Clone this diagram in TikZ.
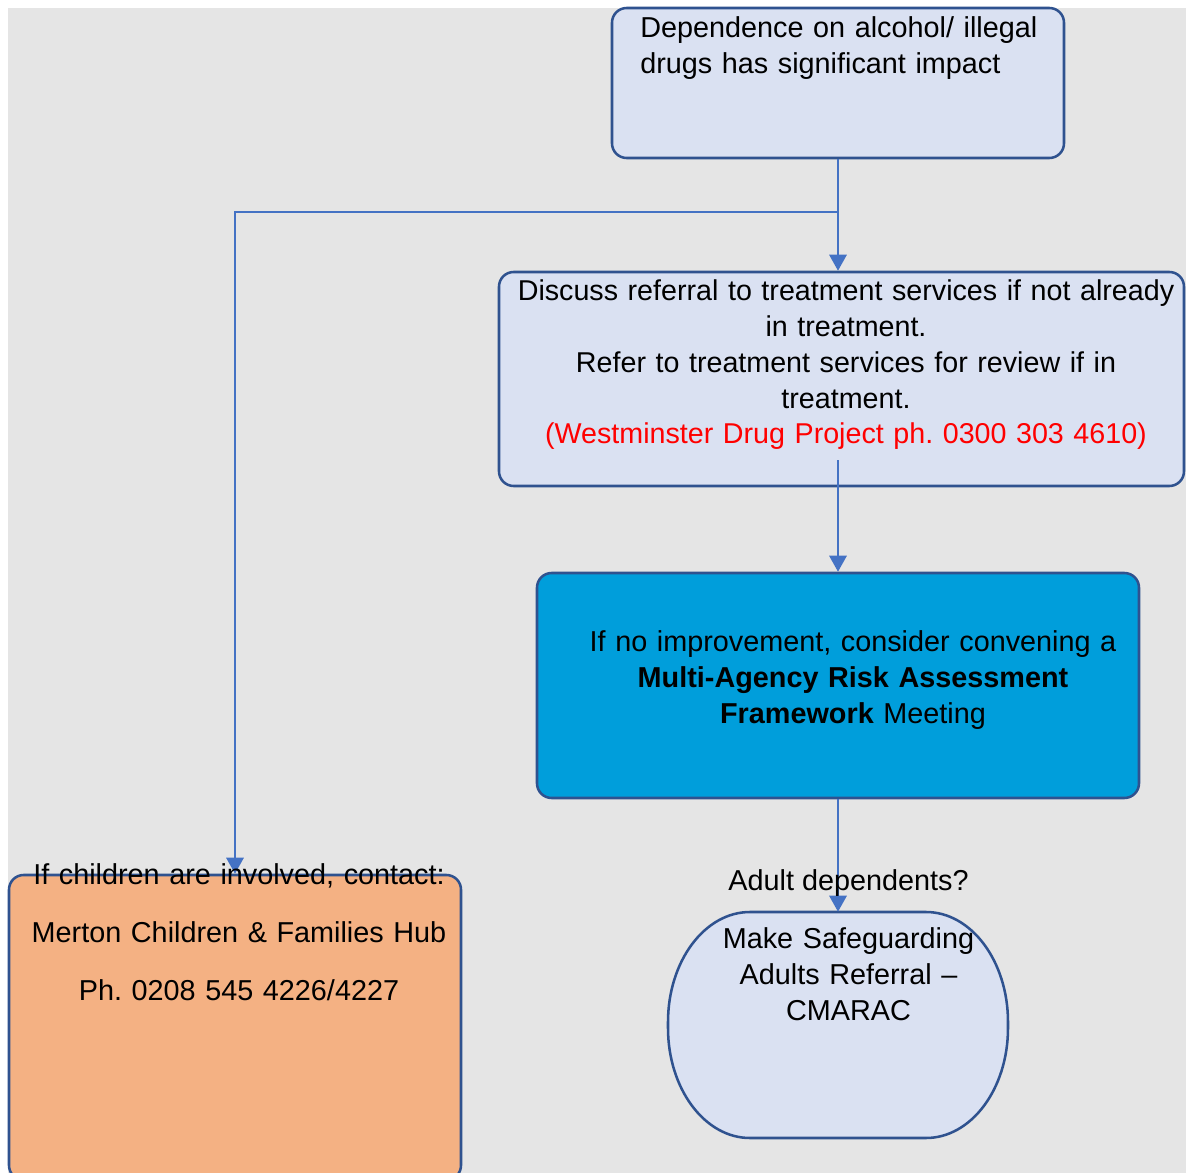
\documentclass[tikz,border=0pt]{standalone}
\usepackage{fontspec}
\setmainfont{Liberation Sans}
\usetikzlibrary{arrows.meta}
\definecolor{bggray}{RGB}{229,229,229}
\definecolor{lightbox}{RGB}{218,225,242}
\definecolor{boxborder}{RGB}{47,82,143}
\definecolor{bluebox}{RGB}{0,158,219}
\definecolor{orangebox}{RGB}{244,177,131}
\definecolor{connblue}{RGB}{68,114,196}
\frenchspacing
\begin{document}
\begin{tikzpicture}[x=0.75pt,y=0.75pt,
  boxshape/.style={draw=boxborder,line width=1.9pt,rounded corners=11pt,inner sep=0pt},
  conn/.style={draw=connblue,line width=1.5pt,-{Triangle[width=13pt,length=12pt]}},
  txt/.style={inner sep=0pt,font=\fontsize{21.6pt}{27pt}\selectfont}]
\useasboundingbox (0,0) rectangle (1186,-1173);
\fill[white] (0,0) rectangle (1186,-1173);
\fill[bggray] (8,-8) rectangle (1186,-1173);
% boxes
\node[boxshape,fill=lightbox,minimum width=339pt,minimum height=112.5pt] (box1) at (838,-83) {};
\node[boxshape,fill=lightbox,minimum width=513.75pt,minimum height=160.5pt] (box2) at (841.5,-379) {};
\node[boxshape,fill=bluebox,minimum width=451.5pt,minimum height=168.75pt] (box3) at (838,-685.5) {};
\node[boxshape,fill=orangebox,minimum width=339pt,minimum height=228.75pt] (box4) at (235,-1027.5) {};
\node[inner sep=0pt,minimum width=255pt,minimum height=169.5pt] (box5) at (838,-1025) {};
\draw[fill=lightbox,draw=boxborder,line width=1.9pt]
  (750,-912) -- (926,-912) arc[start angle=90,end angle=0,x radius=82,y radius=110]
  -- (1008,-1028) arc[start angle=0,end angle=-90,x radius=82,y radius=110]
  -- (750,-1138) arc[start angle=-90,end angle=-180,x radius=82,y radius=110]
  -- (668,-1022) arc[start angle=180,end angle=90,x radius=82,y radius=110] -- cycle;
% connectors
\coordinate (j) at (838,-212);
\coordinate (c23) at (838,-460);
\draw[conn] (box1.south) -- (box1.south |- box2.north);
\draw[conn] (j) -| (box4.north);
\draw[conn] (c23) -- (box3.north);
\draw[conn] (box3.south) -- (box5.north);
% texts
\node[txt,anchor=base west,text width=310pt,align=left] (t1) at (640,-38)
  {Dependence on alcohol/ illegal\\drugs has significant impact};
\node[txt,anchor=base,text width=500pt,align=center,font=\fontsize{21.5pt}{26.8pt}\selectfont] (t2) at (846,-301)
  {Discuss referral to treatment services if not already\\in treatment.\\Refer to treatment services for review if in\\treatment.\\\textcolor{red}{(Westminster Drug Project ph. 0300 303 4610)}};
\node[txt,anchor=base,text width=420pt,align=center] (t3) at (853,-651)
  {If no improvement, consider convening a\\\textbf{Multi-Agency Risk Assessment}\\\textbf{Framework} Meeting};
\node[txt,anchor=base,text width=320pt,align=center,font=\fontsize{21.6pt}{43.5pt}\selectfont] (t4) at (239,-884)
  {If children are involved, contact:\\Merton Children \& Families Hub\\Ph. 0208 545 4226/4227};
\node[txt,anchor=base,text width=200pt,align=center] (t5) at (848.5,-948)
  {Make Safeguarding\\Adults Referral –\\CMARAC};
\node[txt,anchor=base] (lab) at (848.5,-890) {Adult dependents?};
\end{tikzpicture}
\end{document}
